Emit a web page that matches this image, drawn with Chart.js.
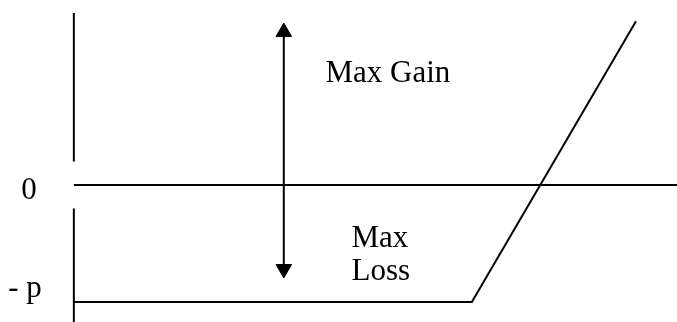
<!DOCTYPE html>
<html>
<head>
<meta charset="utf-8">
<script src="https://cdn.jsdelivr.net/npm/chart.js@4"></script>
<style>
    body { margin: 0; background: #fff; }
    #wrap { width: 677px; height: 322px; }
</style>
</head>
<body>
<div id="wrap"><canvas id="chart" width="677" height="322"></canvas></div>
<script>
// payoff units: premium p = 10, strike K = 58.2
const premium = 10;
const strike = 58.2;

// long option payoff: flat at -p, then rising one for one
const payoffX = [0, strike, 82.2];
const payoffY = [-premium, -premium, 14];

// zero line and the vertical axis (gap around the "0" label)
const zeroX = [0, 88.2];
const zeroY = [0, 0];
const axisY = [14.7, 2, null, -2, -11.7];

// max gain / max loss double arrow
const arrowX = 30.7;
const arrowY = [13.07, -7.18];

// text labels and where they sit (in payoff units)
const noteText = ['Max Gain', 'Max', 'Loss', '0', '- p'];
const noteX = [36.8, 40.6, 40.6, -7.7, -9.6];
const noteY = [8.8, -5.3, -8.15, -1.2, -9.55];

function pts(xs, ys) {
    return xs.map((x, i) => (ys[i] === null ? {x: x, y: null} : {x: x, y: ys[i]}));
}

const notesPlugin = {
    id: 'notes',
    afterDatasetsDraw(chart) {
        const ctx = chart.ctx;
        const sx = chart.scales.x, sy = chart.scales.y;
        ctx.save();
        ctx.fillStyle = '#000';
        ctx.font = '31px "Liberation Serif", "Times New Roman", serif';
        ctx.textAlign = 'left';
        ctx.textBaseline = 'alphabetic';
        noteText.forEach((t, i) => {
            ctx.fillText(t, sx.getPixelForValue(noteX[i]), sy.getPixelForValue(noteY[i]));
        });
        ctx.restore();
    }
};

new Chart(document.getElementById('chart'), {
    type: 'line',
    data: {
        datasets: [
            {
                label: 'axis',
                data: pts(axisY.map(() => 0), axisY),
                borderColor: '#000',
                borderWidth: 2,
                pointRadius: 0,
                spanGaps: false
            },
            {
                label: 'zero',
                data: pts(zeroX, zeroY),
                borderColor: '#000',
                borderWidth: 2,
                pointRadius: 0
            },
            {
                label: 'payoff',
                data: pts(payoffX, payoffY),
                borderColor: '#000',
                borderWidth: 2,
                pointRadius: 0
            },
            {
                label: 'range',
                data: pts(arrowY.map(() => arrowX), arrowY),
                borderColor: '#000',
                borderWidth: 2,
                pointStyle: 'triangle',
                pointRadius: 9,
                pointRotation: [0, 180],
                pointBackgroundColor: '#000',
                pointBorderColor: '#000',
                pointBorderWidth: 1
            }
        ]
    },
    options: {
        responsive: false,
        animation: false,
        events: [],
        layout: { padding: 0, autoPadding: false },
        plugins: {
            legend: { display: false },
            tooltip: { enabled: false }
        },
        scales: {
            x: { type: 'linear', min: -10.8, max: 88.2, display: false },
            y: { type: 'linear', min: -11.71, max: 15.81, display: false }
        }
    },
    plugins: [notesPlugin]
});
</script>
</body>
</html>
